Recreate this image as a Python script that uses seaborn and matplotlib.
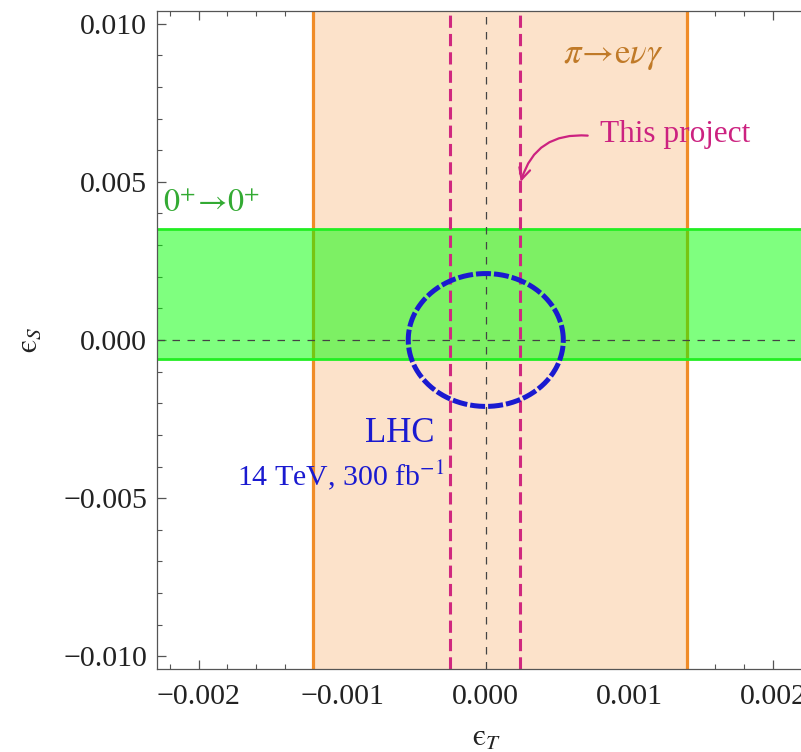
import numpy as np
import matplotlib
matplotlib.use("Agg")
import matplotlib.pyplot as plt
import seaborn as sns
import pandas as pd
from matplotlib.ticker import MultipleLocator, FuncFormatter

# ---- data ----
pi_band = [-0.0012, 0.0014]            # pi -> e nu gamma allowed eps_T range
superallowed_band = [-0.0006, 0.0035]  # 0+ -> 0+ allowed eps_S range
project_lines = [-0.00025, 0.00024]    # this project eps_T bounds
lhc_center = [0.0, 0.0]
lhc_semi_axes = [0.00054, 0.0021]      # LHC 14 TeV ellipse semi-axes (eps_T, eps_S)
x_ticks = [-0.002, -0.001, 0.0, 0.001, 0.002]
y_ticks = [-0.010, -0.005, 0.0, 0.005, 0.010]

sns.set_theme(style="ticks")
plt.rcParams['font.family'] = ['Liberation Serif', 'DejaVu Serif']
plt.rcParams['mathtext.fontset'] = 'stix'

fig = plt.figure(figsize=(8.01, 7.52), dpi=100)
ax = fig.add_axes([0.196, 0.1104, 0.8227, 0.875])
ax.set_xlim(-0.00229, 0.0023)
ax.set_ylim(-0.0104, 0.0104)

# orange band
ax.axvspan(pi_band[0], pi_band[1], color='#fce2ca', lw=0, zorder=1)
for v in pi_band:
    ax.axvline(v, color='#f08c28', lw=2.3, zorder=2)

# green band
ax.axhspan(superallowed_band[0], superallowed_band[1], color='#00ff00', alpha=0.5, lw=0, zorder=3)
for v in superallowed_band:
    ax.axhline(v, color='#22ee22', lw=2.0, zorder=4)

# zero lines
ax.axhline(0, color='#444444', lw=0.9, dashes=(6, 6), zorder=5)
ax.axvline(0, color='#444444', lw=0.9, dashes=(6, 6), zorder=5)

# this project lines
for v in project_lines:
    ax.axvline(v, color='#d0287f', lw=2.2, dashes=(4, 2), zorder=6)

# LHC ellipse
t = np.linspace(0, 2 * np.pi, 400)
ell = pd.DataFrame({'x': lhc_center[0] + lhc_semi_axes[0] * np.cos(t),
                    'y': lhc_center[1] + lhc_semi_axes[1] * np.sin(t)})
sns.lineplot(data=ell, x='x', y='y', sort=False, estimator=None, ax=ax,
             color='#1a1ad0', lw=3.6, dashes=False, zorder=7)
ax.lines[-1].set_dashes((3, 0.6))

# texts
ax.text(0.00089, 0.0090, r'$\pi\!\rightarrow\!\mathrm{e}\nu\gamma$', color='#c07a28',
        fontsize=25, ha='center', va='center', zorder=8)
ax.text(0.00132, 0.0065, 'This project', color='#cc2280', fontsize=22.5,
        ha='center', va='center', zorder=8)
ax.annotate('', xy=(0.000244, 0.0050), xytext=(0.00071, 0.00646), zorder=8,
            arrowprops=dict(arrowstyle='->', color='#cc2280', lw=1.6,
                            connectionstyle='arc3,rad=0.4',
                            shrinkA=0, shrinkB=0, mutation_scale=20))
ax.text(-0.00225, 0.00427, r'$0^{+}\!\rightarrow\!0^{+}$', color='#33aa33',
        fontsize=23, ha='left', va='center', zorder=8)
ax.text(-0.00060, -0.00295, 'LHC', color='#1a1ad0', fontsize=25,
        ha='center', va='center', zorder=8)
ax.text(-0.00101, -0.00428, r'14 TeV, 300 fb$^{-1}$', color='#1a1ad0', fontsize=21.5,
        ha='center', va='center', zorder=8)

# axes styling
ax.xaxis.set_major_locator(MultipleLocator(0.001))
ax.xaxis.set_minor_locator(MultipleLocator(0.0002))
ax.yaxis.set_major_locator(MultipleLocator(0.005))
ax.yaxis.set_minor_locator(MultipleLocator(0.001))
fmt = FuncFormatter(lambda v, p: ('%.3f' % (0.0 if abs(v) < 1e-12 else v)).replace('-', '\u2212'))
ax.xaxis.set_major_formatter(fmt)
ax.yaxis.set_major_formatter(fmt)
ax.tick_params(which='both', direction='in', top=True, right=True, color='#555555',
               labelsize=21.5, labelcolor='#222222')
ax.tick_params(which='major', length=6.5, width=0.9)
ax.tick_params(which='minor', length=3.5, width=0.8)
ax.tick_params(axis='x', pad=11)
ax.tick_params(axis='y', pad=7)
for s in ax.spines.values():
    s.set_color('#555555')
    s.set_linewidth(0.9)
    s.set_zorder(10)

ax.set_xlabel('$\\mathrm{\u03f5}_{T}$', fontsize=22, color='#222222', labelpad=10)
ax.set_ylabel('$\\mathrm{\u03f5}_{S}$', fontsize=22, color='#222222', labelpad=14)

fig.savefig('out.png', dpi=100)
